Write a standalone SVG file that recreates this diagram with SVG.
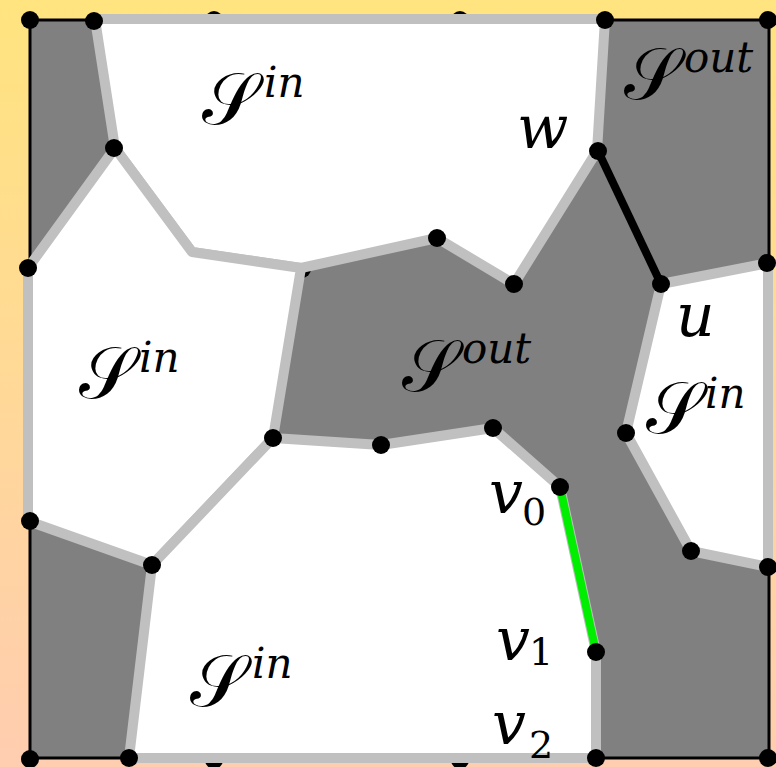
<svg xmlns="http://www.w3.org/2000/svg" width="776" height="767" viewBox="0 0 776 767">
<defs>
<linearGradient id="bg" x1="0" y1="0" x2="0" y2="1">
<stop offset="0" stop-color="#ffe47f"/>
<stop offset="1" stop-color="#ffcdb0"/>
</linearGradient>
<style>
.reg{fill:#ffffff;stroke:#c0c0c0;stroke-width:10;stroke-linejoin:round}
.dot{fill:#000000}
</style>
</defs>
<rect x="0" y="0" width="776" height="767" fill="url(#bg)"/>
<rect x="30" y="20" width="739" height="738" fill="#808080" stroke="#000" stroke-width="3"/>
<g id="hidden-nodes">
<g id="n-h1"><circle class="dot" cx="214" cy="20" r="9"/></g>
<g id="n-h2"><circle class="dot" cx="460" cy="20" r="9"/></g>
<g id="n-h3"><circle class="dot" cx="214" cy="760" r="9"/></g>
<g id="n-h4"><circle class="dot" cx="460" cy="760" r="9"/></g>
<g id="n-h5"><circle class="dot" cx="302" cy="269" r="9"/></g>
</g>
<g id="regions">
<polygon id="sin-top" class="reg" points="95,19 605,19 597,151 514,284 437,238 301,268 192,252 115,148"/>
<polygon id="sin-left" class="reg" points="28,268 115,148 192,252 301,268 273,438 152,565 28,521"/>
<polygon id="sin-right" class="reg" points="661,284 768,263 768,567 691,551 626,433"/>
<polygon id="sin-bottom" class="reg" points="152,565 273,438 381,445 493,428 560,487 596,652 596,758 129,758"/>
</g>
<g id="connectors">
<line x1="598" y1="151" x2="661" y2="284" stroke="#000" stroke-width="8"/>
<line x1="560" y1="487" x2="596" y2="652" stroke="#00ee00" stroke-width="8"/>
</g>
<g id="nodes">
<g id="n1"><circle class="dot" cx="30" cy="20" r="9"/></g>
<g id="n2"><circle class="dot" cx="94" cy="21" r="9"/></g>
<g id="n3"><circle class="dot" cx="605" cy="20" r="9"/></g>
<g id="n4"><circle class="dot" cx="768" cy="20" r="9"/></g>
<g id="n5"><circle class="dot" cx="114" cy="148" r="9"/></g>
<g id="w"><circle class="dot" cx="598" cy="151" r="9"/></g>
<g id="n6"><circle class="dot" cx="28" cy="268" r="9"/></g>
<g id="n7"><circle class="dot" cx="437" cy="238" r="9"/></g>
<g id="n8"><circle class="dot" cx="514" cy="284" r="9"/></g>
<g id="u"><circle class="dot" cx="661" cy="284" r="9"/></g>
<g id="n9"><circle class="dot" cx="767" cy="263" r="9"/></g>
<g id="n10"><circle class="dot" cx="273" cy="438" r="9"/></g>
<g id="n11"><circle class="dot" cx="381" cy="445" r="9"/></g>
<g id="n12"><circle class="dot" cx="493" cy="428" r="9"/></g>
<g id="n13"><circle class="dot" cx="626" cy="433" r="9"/></g>
<g id="v0"><circle class="dot" cx="560" cy="487" r="9"/></g>
<g id="n14"><circle class="dot" cx="30" cy="521" r="9"/></g>
<g id="n15"><circle class="dot" cx="691" cy="551" r="9"/></g>
<g id="n16"><circle class="dot" cx="152" cy="565" r="9"/></g>
<g id="n17"><circle class="dot" cx="768" cy="567" r="9"/></g>
<g id="v1"><circle class="dot" cx="596" cy="652" r="9"/></g>
<g id="n18"><circle class="dot" cx="30" cy="759" r="9"/></g>
<g id="n19"><circle class="dot" cx="129" cy="758" r="9"/></g>
<g id="v2"><circle class="dot" cx="596" cy="758" r="9"/></g>
<g id="n20"><circle class="dot" cx="768" cy="758" r="9"/></g>
</g>
<g id="labels" fill="#000">
<g font-family="DejaVu Serif, serif" font-size="72">
<text x="202" y="124">𝒮</text>
<text x="624" y="99">𝒮</text>
<text x="79" y="398">𝒮</text>
<text x="402" y="391">𝒮</text>
<text x="646" y="433">𝒮</text>
<text x="190" y="706">𝒮</text>
</g>
<g font-family="DejaVu Serif, serif" font-style="italic" font-size="42">
<text x="264" y="97">in</text>
<text x="684" y="72">out</text>
<text x="139" y="372">in</text>
<text x="462" y="363">out</text>
<text x="705" y="408">in</text>
<text x="252" y="678">in</text>
</g>
<g font-family="DejaVu Serif, serif" font-style="italic" font-size="60">
<text x="517" y="148">w</text>
<text x="676" y="336">u</text>
<text x="489" y="513">v</text>
<text x="496" y="660">v</text>
<text x="492" y="744">v</text>
</g>
<g font-family="DejaVu Serif, serif" font-size="38">
<text x="522" y="525">0</text>
<text x="529" y="665">1</text>
<text x="529" y="758">2</text>
</g>
</g>
</svg>
